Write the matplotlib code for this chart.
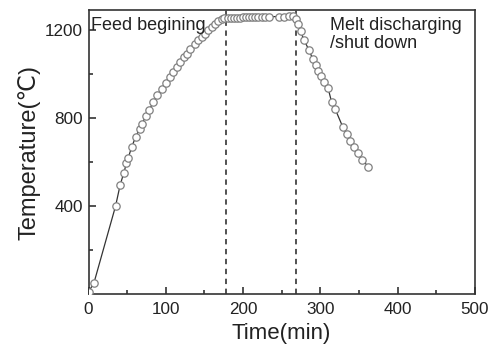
import numpy as np
import matplotlib.pyplot as plt
from matplotlib.ticker import MultipleLocator

plt.rcParams['font.family'] = ['Liberation Sans', 'DejaVu Sans']

# temperature record
time = [0, 7, 35, 41, 45.5, 49, 51.5, 56, 61, 66, 69, 74, 78, 84, 89, 94.7, 100, 105.4,
        109.7, 114, 118.4, 123.5, 127.8, 132, 137.8, 142, 146.4, 150.7, 155, 159.4,
        163.6, 168, 172.3, 176, 180, 184, 188, 192, 196, 200, 204, 208, 212, 216, 220,
        224, 228, 233, 247, 253, 259, 265, 268, 271, 274.5, 279, 285.6, 290, 294, 297,
        300.6, 305, 310, 314.6, 319, 329, 334, 339, 344, 349, 354, 362]
temp = [10, 50, 400, 497, 549, 594, 621, 670, 715, 751, 773, 809, 836, 873, 905, 935, 960, 988,
        1010, 1033, 1056, 1079, 1094, 1117, 1140, 1155, 1170, 1185, 1200, 1215,
        1227, 1242, 1253, 1255, 1256, 1257, 1257, 1258, 1258, 1259, 1259, 1260, 1260, 1260, 1261,
        1261, 1262, 1262, 1263, 1263, 1264, 1264, 1253, 1230, 1195, 1155, 1109, 1071, 1041, 1015,
        992, 965, 938, 874, 844, 761, 730, 697, 670, 640, 612, 580]
events = [178, 268]

fig = plt.figure(figsize=(4.89, 3.5), dpi=100)
ax = fig.add_axes([0.181, 0.16, 0.79, 0.811])

ax.plot(time, temp, '-', color='#333333', lw=0.9, zorder=2)
ax.plot(time, temp, 'o', ms=5.3, mfc='white', mec='#808080', mew=0.9, zorder=3)

for t in events:
    ax.axvline(t, color='#222222', ls=(0, (3.5, 3)), lw=1.1, zorder=1)

ax.text(3, 1262, 'Feed begining', fontsize=13, va='top', ha='left', color='#222222')
ax.text(312, 1262, 'Melt discharging\n/shut down', fontsize=13, va='top', ha='left',
        color='#222222', linespacing=1.1)

ax.set_xlim(0, 500)
ax.set_ylim(0, 1292)
ax.set_xticks([0, 100, 200, 300, 400, 500])
ax.set_yticks([400, 800, 1200])
ax.xaxis.set_minor_locator(MultipleLocator(50))
ax.yaxis.set_minor_locator(MultipleLocator(200))
ax.tick_params(which='both', direction='in', top=False, right=False, labelsize=12.3,
               colors='#222222', width=1.1)
ax.tick_params(which='major', length=5)
ax.tick_params(which='minor', length=3)
ax.tick_params(axis='x', pad=6)
ax.tick_params(axis='y', pad=4)
for s in ax.spines.values():
    s.set_linewidth(1.2)
    s.set_color('#333333')

ax.set_xlabel('Time(min)', fontsize=16, color='#222222', labelpad=4)
ax.set_ylabel('Temperature(℃)', fontsize=17, color='#222222', labelpad=3)

fig.savefig('out.png', dpi=100)
